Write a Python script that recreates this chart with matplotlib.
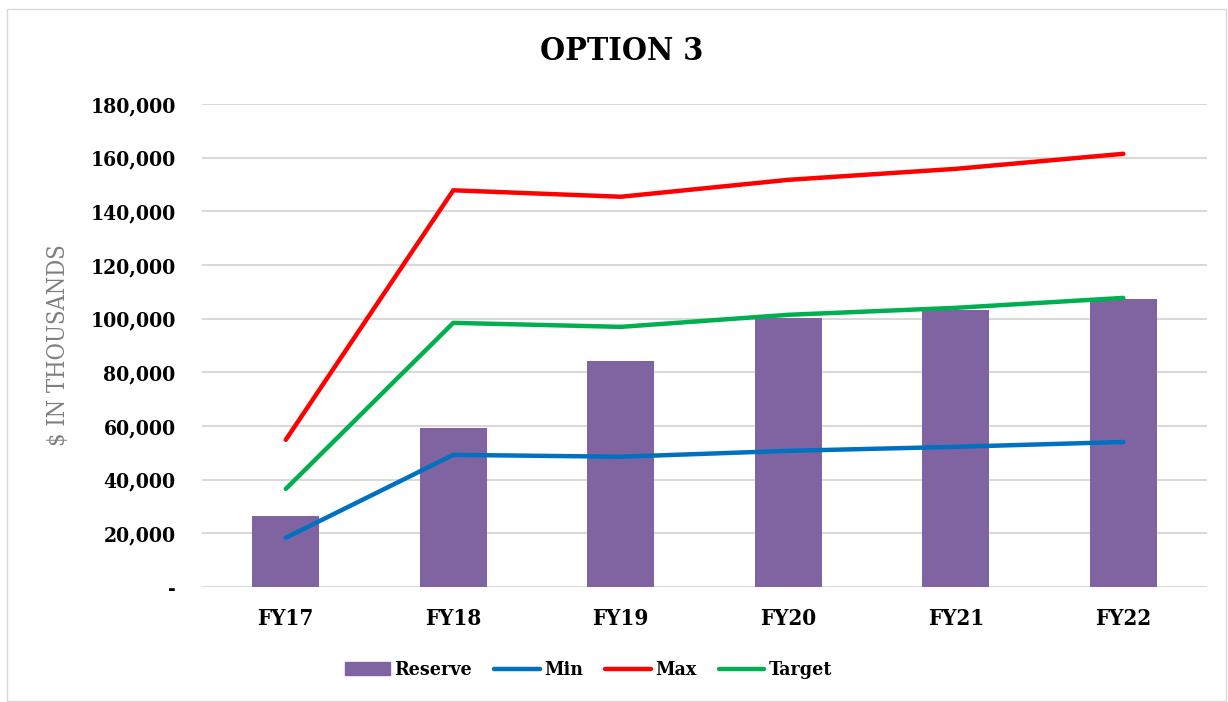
import matplotlib.pyplot as plt
import numpy as np
from matplotlib.patches import Rectangle
from matplotlib.lines import Line2D
from matplotlib.ticker import FuncFormatter

plt.rcParams['font.family'] = ['DejaVu Serif']
plt.rcParams['font.stretch'] = 'condensed'

years = ['FY17', 'FY18', 'FY19', 'FY20', 'FY21', 'FY22']
reserve = [26500, 59300, 84300, 100300, 103300, 107300]
min_vals = [18300, 49200, 48500, 50700, 52200, 54000]
max_vals = [54800, 147800, 145400, 151700, 155800, 161400]
target = [36500, 98400, 96900, 101400, 104000, 107700]

fig = plt.figure(figsize=(12.28, 7.02), dpi=100)
ax = fig.add_axes([0.1645, 0.164, 0.8185, 0.688])

x = np.arange(len(years))
ax.bar(x, reserve, width=0.4, color='#8064a2', zorder=2)
ax.plot(x, min_vals, color='#0070c0', lw=3.2, solid_capstyle='round', zorder=3)
ax.plot(x, max_vals, color='#ff0000', lw=3.2, solid_capstyle='round', zorder=3)
ax.plot(x, target, color='#00b050', lw=3.2, solid_capstyle='round', zorder=3)

ax.set_xlim(-0.5, len(years) - 0.5)
ax.set_ylim(0, 180000)
ax.set_yticks(np.arange(0, 180001, 20000))
ax.yaxis.set_major_formatter(FuncFormatter(lambda v, p: '-' if v == 0 else f'{v:,.0f}'))
ax.set_xticks(x)
ax.set_xticklabels(years)
ax.grid(axis='y', color='#d9d9d9', lw=1.5, zorder=0)
for s in ax.spines.values():
    s.set_visible(False)
ax.tick_params(axis='y', length=0, labelsize=15, pad=19)
ax.tick_params(axis='x', length=0, labelsize=16, pad=15)
for t in ax.get_xticklabels() + ax.get_yticklabels():
    t.set_fontweight('bold')

ax.set_ylabel('$ IN THOUSANDS', color='#7f7f7f', fontsize=17)
ax.yaxis.set_label_coords(-0.131, 0.5)
fig.text(0.506, 0.926, 'OPTION 3', ha='center', va='center', fontsize=23, fontweight='bold')

handles = [Rectangle((0, 0), 1, 1, color='#8064a2'),
           Line2D([], [], color='#0070c0', lw=3.2, solid_capstyle='round'),
           Line2D([], [], color='#ff0000', lw=3.2, solid_capstyle='round'),
           Line2D([], [], color='#00b050', lw=3.2, solid_capstyle='round')]
fig.legend(handles, ['Reserve', 'Min', 'Max', 'Target'], loc='center', ncol=4,
           bbox_to_anchor=(0.479, 0.045), frameon=False,
           prop={'weight': 'bold', 'size': 14, 'stretch': 'condensed'}, handlelength=2.35,
           handletextpad=0.2, columnspacing=1.15)

fig.patches.append(Rectangle((0.006, 0.002), 0.992, 0.985, transform=fig.transFigure,
                             fill=False, edgecolor='#d9d9d9', lw=1))

fig.savefig('out.png', dpi=100)
